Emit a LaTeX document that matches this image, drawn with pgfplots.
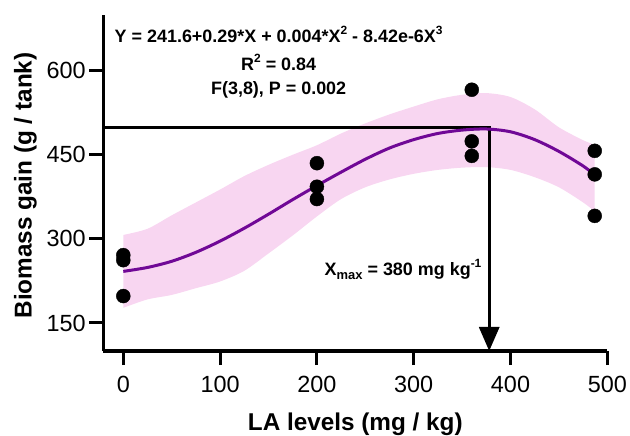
\documentclass[border=0pt]{standalone}
\usepackage{fontspec}
\setmainfont{Liberation Sans}
\usepackage{pgfplots}
\pgfplotsset{compat=1.18}
\usepgfplotslibrary{fillbetween}
\usetikzlibrary{arrows.meta}
\definecolor{bandpink}{RGB}{248,214,241}
\definecolor{fitpurple}{RGB}{112,8,150}
\newcommand\sups[1]{\raisebox{0.45em}{\fontsize{12}{12}\selectfont #1}}
\newcommand\subs[1]{\raisebox{-0.2em}{\fontsize{13}{13}\selectfont #1}}

\begin{document}
\begin{tikzpicture}
\begin{axis}[at={(0,0)}, anchor=south west, scale only axis,
  width=504bp, height=336.4bp,
  xmin=-20.66, xmax=500, ymin=100, ymax=700,
  axis lines=left, axis line style={line width=3bp, -},
  tick align=outside, major tick length=14bp,
  tick style={black, line width=3bp},
  xtick={0,100,...,500}, ytick={150,300,450,600},
  tick label style={font=\fontsize{23.5}{26}\selectfont, inner sep=0pt},
  /pgf/number format/assume math mode=true,
  xticklabel shift=11bp, yticklabel shift=3.5bp,
  label style={font=\fontsize{24.4}{28}\selectfont\bfseries},
  xlabel={LA levels (mg / kg)},
  ylabel={Biomass gain (g / tank)},
  xlabel style={at={(axis description cs:0.5,-0.2355)}, anchor=base},
  ylabel style={at={(axis description cs:-0.1421,0.492)}, anchor=base},
  clip=false]

% confidence band
\addplot[name path=up, draw=none, smooth] coordinates {
(0,307)(25,318)(50,342)(75,365)(100,388)(125,412)(150,432)(175,450)(200,467)
(225,488)(250,506)(275,522)(300,536)(325,549)(350,557)(375,560)(400,553)
(425,531)(450,499)(475,476)(487,468)};
\addplot[name path=lo, draw=none, smooth] coordinates {
(0,177)(25,192)(50,200)(75,212)(100,224)(125,243)(150,274)(175,306)(200,340)
(225,371)(250,392)(275,406)(300,416)(325,423)(350,427)(375,428)(400,423)
(425,410)(450,392)(475,365)(487,349)};
\addplot[bandpink] fill between[of=up and lo];

% x max marker
\draw[black, line width=3bp, -{Triangle[width=20bp,length=24bp]}]
  (axis cs:-20.66,498) -- (axis cs:378,498) -- (axis cs:378,100);

% fitted curve
\addplot[fitpurple, line width=3bp, smooth, tension=0.5] coordinates {
(0,242)(25,249)(50,260)(75,276)(100,296)(125,319)(150,344)(175,370)(200,395)
(225,419)(250,442)(275,462)(300,477)(325,488)(350,494)(375,496)(400,491)
(425,477)(450,456)(475,430)(487,414)};

% observations
\addplot[only marks, mark=*, mark size=7bp, black] coordinates {
(0,271)(0,262)(0,198)
(200,435)(200,393)(200,371)
(360,566)(360,474)(360,448)
(487,457)(487,415)(487,341)};

\node[anchor=base, font=\fontsize{18}{20}\selectfont\bfseries] at (axis cs:160.5,651)
  {Y = 241.6+0.29*X + 0.004*X\sups{2} - 8.42e-6X\sups{3}};
\node[anchor=base, font=\fontsize{18}{20}\selectfont\bfseries] at (axis cs:160.5,601)
  {R\sups{2} = 0.84};
\node[anchor=base, font=\fontsize{18}{20}\selectfont\bfseries] at (axis cs:160.5,558)
  {F(3,8), P = 0.002};
\node[anchor=base, font=\fontsize{18}{20}\selectfont\bfseries] at (axis cs:289,234)
  {X\subs{max} = 380 mg kg\sups{-1}};
\end{axis}
\pgfresetboundingbox
\path[use as bounding box] (-103.3bp,-85bp) rectangle (526.7bp,351bp);
\end{tikzpicture}
\end{document}
